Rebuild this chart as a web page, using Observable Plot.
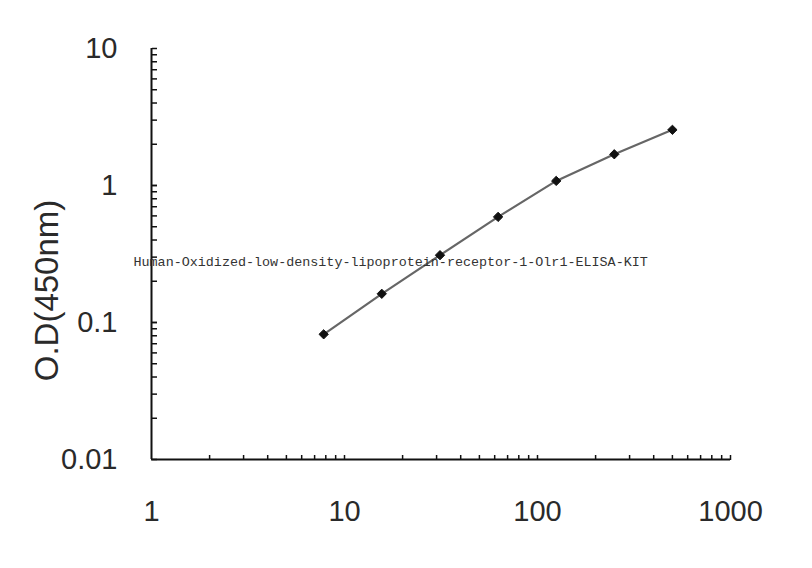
<!DOCTYPE html>
<html>
<head>
<meta charset="utf-8">
<script src="https://cdn.jsdelivr.net/npm/d3@7"></script>
<script src="https://cdn.jsdelivr.net/npm/@observablehq/plot@0.6"></script>
<style>
  html, body { margin: 0; padding: 0; background: #fff; }
</style>
</head>
<body>
<div id="chart"></div>
<script>
// Data
const concentration = [7.8, 15.6, 31.25, 62.5, 125, 250, 500];
const od = [0.082, 0.162, 0.31, 0.59, 1.08, 1.69, 2.55];
const xMajorTicks = [1, 10, 100, 1000];
const yMajorTicks = [0.01, 0.1, 1, 10];
const yLabel = "O.D(450nm)";
const watermark = "Human-Oxidized-low-density-lipoprotein-receptor-1-Olr1-ELISA-KIT";

const points = concentration.map((c, i) => ({c, od: od[i]}));
const xMinorTicks = [1, 10, 100].flatMap(d => [2,3,4,5,6,7,8,9,10].map(k => k * d));
const yMinorTicks = [0.01, 0.1, 1].flatMap(d => [1,2,3,4,5,6,7,8,9,10].map(k => +(k * d).toPrecision(3)));

const W = 812, H = 568, mL = 151, mR = 82, mT = 48, mB = 109;
const innerW = W - mL - mR, innerH = H - mT - mB;

const chart = Plot.plot({
  width: W,
  height: H,
  marginLeft: mL,
  marginRight: mR,
  marginTop: mT,
  marginBottom: mB,
  x: {type: "log", domain: [1, 1000]},
  y: {type: "log", domain: [0.01, 10]},
  style: {fontFamily: "'Liberation Sans', Arial, sans-serif", color: "#2a2a2a", background: "#fff"},
  marks: [
    // tick labels
    Plot.axisY({ticks: yMajorTicks, tickSize: 0, tickPadding: 34, fontSize: 29, tickFormat: d => String(d), label: null}),
    Plot.axisX({ticks: xMajorTicks, tickSize: 0, tickPadding: 41, fontSize: 29, tickFormat: d => String(d), label: null}),
    // inward ticks
    Plot.axisY({anchor: "right", ticks: yMinorTicks, tickSize: 5, dx: -innerW, tickFormat: () => "", label: null, stroke: "#111", strokeWidth: 1.5}),
    Plot.axisX({anchor: "top", ticks: xMinorTicks, tickSize: 5, dy: innerH, tickFormat: () => "", label: null, stroke: "#111", strokeWidth: 1.5}),
    // axis lines
    Plot.ruleX([1], {stroke: "#111", strokeWidth: 2}),
    Plot.ruleY([0.01], {stroke: "#111", strokeWidth: 2}),
    // y label
    Plot.text([yLabel], {frameAnchor: "left", text: d => d, rotate: -90, textAnchor: "middle", lineAnchor: "middle",
      dx: 47 - mL, dy: 290 - (mT + innerH / 2), fontSize: 33, fill: "#2a2a2a"}),
    // curve
    Plot.line(points, {x: "c", y: "od", stroke: "#666", strokeWidth: 2.2}),
    Plot.dot(points, {x: "c", y: "od", symbol: "diamond2", r: 4.2, fill: "#111", stroke: "#111", strokeWidth: 1}),
    // watermark
    Plot.text([watermark], {frameAnchor: "left", text: d => d, textAnchor: "start", dx: 133 - mL, dy: 261 - (mT + innerH / 2),
      fontFamily: "'Liberation Mono', 'DejaVu Sans Mono', monospace", fontSize: 13.4, fill: "#333"})
  ]
});

document.getElementById("chart").appendChild(chart);
</script>
</body>
</html>
